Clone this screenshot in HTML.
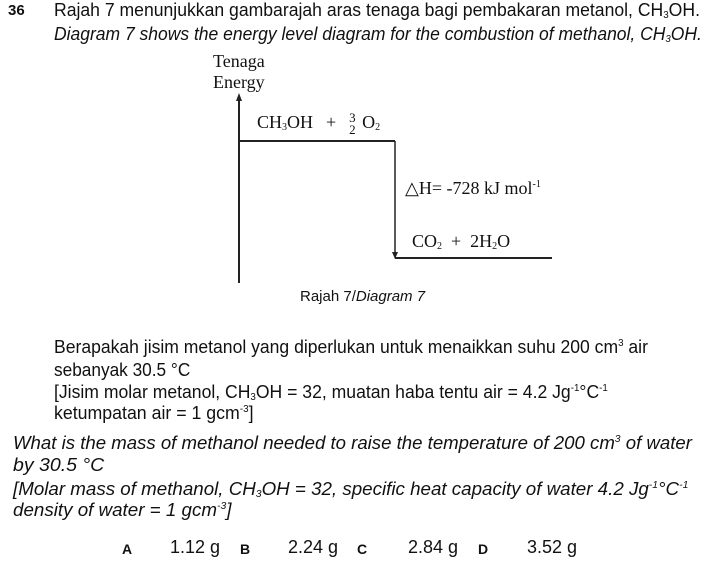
<!DOCTYPE html>
<html><head><meta charset="utf-8"><style>
body{margin:0;width:704px;height:577px;background:#fff;position:relative;overflow:hidden;font-family:"Liberation Sans",sans-serif;color:#111}
.t{position:absolute;white-space:nowrap;font-size:16px;line-height:18px;transform-origin:0 50%}
.fit{font-size:18px;line-height:20px}
.s{font-family:"Liberation Serif",serif;position:absolute;white-space:nowrap;font-size:18px;line-height:22px}
sub{font-size:10px;vertical-align:-2px}sup{font-size:10px;vertical-align:7px;line-height:0}
i{font-style:italic}
</style></head><body>
<div class="t" style="left:8px;top:2px;font-weight:bold;font-size:15px">36</div>
<div class="t fit" data-w="646" style="left:54px;top:0px">Rajah 7 menunjukkan gambarajah  aras tenaga bagi pembakaran metanol, CH<sub>3</sub>OH.</div>
<div class="t fit" data-w="648" style="left:54px;top:24px"><i>Diagram 7 shows the energy level diagram for the combustion of methanol, CH<sub>3</sub>OH.</i></div>

<svg style="position:absolute;left:0;top:0" width="704" height="300">
<line x1="239" y1="97" x2="239" y2="283" stroke="#222" stroke-width="2"/>
<polygon points="236,101 239,93 242,101" fill="#222"/>
<line x1="239" y1="141" x2="395" y2="141" stroke="#222" stroke-width="2"/>
<line x1="395" y1="141" x2="395" y2="255" stroke="#222" stroke-width="1.5"/>
<polygon points="392,252 395,259 398,252" fill="#222"/>
<line x1="395" y1="258" x2="552" y2="258" stroke="#222" stroke-width="2"/>
</svg>
<div class="s" style="left:213px;top:51px;line-height:21px">Tenaga<br>Energy</div>
<div class="s" style="left:257px;top:111px;word-spacing:2px">CH<sub>3</sub>OH &nbsp;+ &nbsp;<span style="display:inline-block;vertical-align:middle;text-align:center;font-size:13px;line-height:12px">3<br>2</span> O<sub>2</sub></div>
<div class="s" style="left:405px;top:177px">△H= -728 kJ mol<sup>-1</sup></div>
<div class="s" style="left:412px;top:230px">CO<sub>2</sub> &nbsp;+ &nbsp;2H<sub>2</sub>O</div>
<div class="t" style="left:300px;top:288px;font-size:15px">Rajah 7/<i>Diagram 7</i></div>

<div class="t fit" data-w="594" style="left:54px;top:337px">Berapakah jisim metanol yang diperlukan untuk menaikkan suhu 200 cm<sup>3</sup> air</div>
<div class="t fit" data-w="136" style="left:54px;top:360px">sebanyak 30.5 °C</div>
<div class="t fit" data-w="554" style="left:54px;top:382px">[Jisim molar metanol, CH<sub>3</sub>OH = 32, muatan haba tentu air = 4.2 Jg<sup>-1</sup>°C<sup>-1</sup></div>
<div class="t fit" data-w="200" style="left:54px;top:403px">ketumpatan air = 1 gcm<sup>-3</sup>]</div>

<div class="t fit" data-w="679" style="left:13px;top:433px"><i>What is the mass of methanol needed to raise the temperature of 200 cm<sup>3</sup> of water</i></div>
<div class="t fit" data-w="91" style="left:13px;top:455px"><i>by 30.5 °C</i></div>
<div class="t fit" data-w="675" style="left:13px;top:479px"><i>[Molar mass of methanol, CH<sub>3</sub>OH = 32, specific heat capacity of water 4.2 Jg<sup>-1</sup>°C<sup>-1</sup></i></div>
<div class="t fit" data-w="219" style="left:13px;top:500px"><i>density of water = 1 gcm<sup>-3</sup>]</i></div>

<div class="t" style="left:122px;top:540px;font-weight:bold;font-size:14px">A</div>
<div class="t" style="left:170px;top:538px;font-size:18px">1.12 g</div>
<div class="t" style="left:240px;top:540px;font-weight:bold;font-size:14px">B</div>
<div class="t" style="left:288px;top:538px;font-size:18px">2.24 g</div>
<div class="t" style="left:357px;top:540px;font-weight:bold;font-size:14px">C</div>
<div class="t" style="left:408px;top:538px;font-size:18px">2.84 g</div>
<div class="t" style="left:478px;top:540px;font-weight:bold;font-size:14px">D</div>
<div class="t" style="left:527px;top:538px;font-size:18px">3.52 g</div>
<script>
document.querySelectorAll('.fit').forEach(function(el){
  var w=+el.getAttribute('data-w');var a=el.scrollWidth||el.getBoundingClientRect().width;
  if(a>0)el.style.transform='scaleX('+(w/a)+')';
});
</script>
</body></html>
